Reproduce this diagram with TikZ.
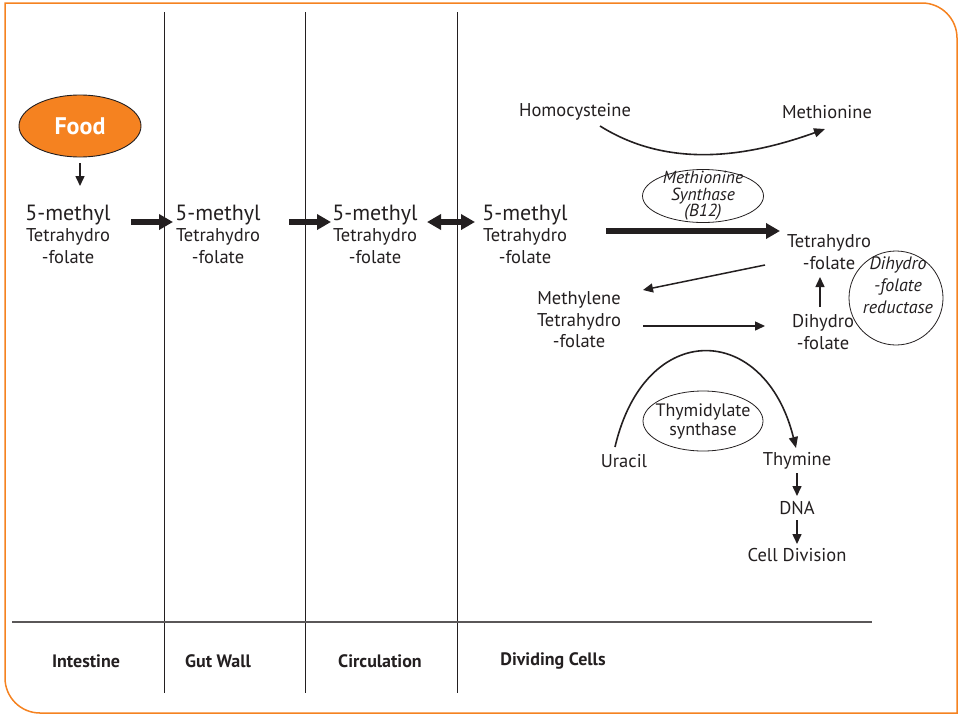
\documentclass[tikz,border=0pt]{standalone}
\usepackage{fontspec}
\setmainfont{PT Sans}
\usetikzlibrary{arrows.meta,shapes.geometric}
\definecolor{brand}{HTML}{F58220}
\definecolor{ink}{HTML}{231F20}
\begin{document}
\begin{tikzpicture}[x=1pt,y=-1pt,
  txt/.style={inner sep=1pt, text=ink, font=\fontsize{18.5}{21.5}\selectfont, align=center},
  enz/.style={ellipse, draw=ink, line width=0.8pt, inner sep=-12pt, text=ink,
    font=\fontsize{17.5}{16.5}\selectfont\itshape, align=center},
  enztext/.style={inner sep=0pt, text=ink, font=\fontsize{18}{22}\selectfont\itshape, align=center},
  region/.style={inner sep=1pt, text=ink, font=\fontsize{18}{20}\selectfont\bfseries},
  thin arrow/.style={draw=ink, line width=1.5pt, -{Triangle[length=10pt,width=9pt]}},
  thick arrow/.style={draw=ink, line width=6pt, -{Triangle[length=14pt,width=15pt]}},
  curve arrow/.style={draw=ink, line width=1.6pt, -{Triangle[length=11pt,width=9pt]}},
  divider/.style={draw=ink, line width=1pt}]
\useasboundingbox (0,0) rectangle (963,715);

% outer frame with two rounded corners
\draw[brand, line width=1.5pt]
  (5,3) -- (922,3) .. controls (941.3,3) and (957,18.7) .. (957,38)
  -- (957,713) -- (40,713) .. controls (20.7,713) and (5,697.3) .. (5,678) -- cycle;

% column dividers and footer rule
\coordinate (d1t) at (164,12);  \coordinate (d1b) at (164,693);
\coordinate (d2t) at (305,12);  \coordinate (d2b) at (305,693);
\coordinate (d3t) at (457,12);  \coordinate (d3b) at (457,693);
\coordinate (rl) at (12,622);   \coordinate (rr) at (872,622);
\draw[divider] (d1t) -- (d1b);
\draw[divider] (d2t) -- (d2b);
\draw[divider] (d3t) -- (d3b);
\draw[draw=ink!75, line width=2.2pt] (rl) -- (rr);

% region labels
\node[region] (intestine) at (86,661) {Intestine};
\node[region] (gutwall) at (218,661) {Gut Wall};
\node[region] (circ) at (380,661) {Circulation};
\node[region] (divcells) at (553,661) {Dividing Cells};

% food source
\node[ellipse, draw=ink, line width=0.9pt, fill=brand, minimum width=122pt,
  minimum height=62pt, inner sep=0pt, text=white,
  font=\fontsize{24}{24}\selectfont\bfseries] (food) at (80,126) {Food};

% 5-methyl tetrahydrofolate in each compartment
\node[txt] (m1) at (68,234) {{\fontsize{22}{22}\selectfont 5-methyl}\\Tetrahydro\\-folate};
\node[txt] (m2) at (218,234) {{\fontsize{22}{22}\selectfont 5-methyl}\\Tetrahydro\\-folate};
\node[txt] (m3) at (375,234) {{\fontsize{22}{22}\selectfont 5-methyl}\\Tetrahydro\\-folate};
\node[txt] (m4) at (525,234) {{\fontsize{22}{22}\selectfont 5-methyl}\\Tetrahydro\\-folate};

\draw[thin arrow] ([shift={(0,37)}]food.center) -- ([shift={(12,-48)}]m1.center);
\draw[thick arrow] ([shift={(63,-12)}]m1.center) -- ([shift={(-45,-12)}]m2.center);
\draw[thick arrow] ([shift={(71,-12)}]m2.center) -- ([shift={(-44,-12)}]m3.center);
\draw[thick arrow, {Triangle[length=14pt,width=15pt]}-{Triangle[length=14pt,width=15pt]}]
  ([shift={(52,-12)}]m3.center) -- ([shift={(-50,-12)}]m4.center);

% methionine cycle
\node[txt] (homo) at (575,112) {Homocysteine};
\node[txt] (meth) at (827,112) {Methionine};
\draw[curve arrow] ([shift={(25,14)}]homo.center)
  .. controls (670,170) and (750,156) .. ([shift={(-2,17)}]meth.center);
\node[enz, minimum width=121pt, minimum height=53pt] (ms) at (703,196)
  {Methionine\\Synthase\\(B12)};

\node[txt] (thf) at (829,252) {Tetrahydro\\-folate};
\draw[thick arrow] ([shift={(81,-3)}]m4.center) -- ([shift={(-49,-21)}]thf.center);

\node[circle, draw=ink, line width=0.8pt, minimum size=94pt, inner sep=0pt,
  label={[enztext, xshift=2pt, yshift=13pt]center:{Dihydro\\-folate\\reductase}}]
  (dhfr) at (896,298) {};

\node[txt] (mthf) at (579,320) {Methylene\\Tetrahydro\\-folate};
\node[txt] (dhf) at (823,332) {Dihydro\\-folate};

\draw[thin arrow] ([shift={(-64,13)}]thf.center) -- ([shift={(64,-30)}]mthf.center);
\draw[thin arrow] ([shift={(64,6)}]mthf.center) -- ([shift={(-58,-6)}]dhf.center);
\draw[thin arrow] ([shift={(-3,-25)}]dhf.center) -- ([shift={(-9,25)}]thf.center);

% thymidylate synthesis
\node[txt] (uracil) at (624,461) {Uracil};
\node[txt] (thymine) at (797,461) {Thymine};
\node[txt] (dna) at (797,508) {DNA};
\node[txt] (cell) at (797,555) {Cell Division};
\draw[curve arrow] ([shift={(-9,-14)}]uracil.center)
  .. controls (645,318) and (765,322) .. ([shift={(-1,-13)}]thymine.center);
\node[enz, font=\fontsize{18}{19}\selectfont, minimum width=120pt, minimum height=60pt]
  (ts) at (703,421) {Thymidylate\\synthase};
\draw[thin arrow] ([shift={(0,12)}]thymine.center) -- ([shift={(0,-12)}]dna.center);
\draw[thin arrow] ([shift={(0,12)}]dna.center) -- ([shift={(0,-11)}]cell.center);
\end{tikzpicture}
\end{document}
